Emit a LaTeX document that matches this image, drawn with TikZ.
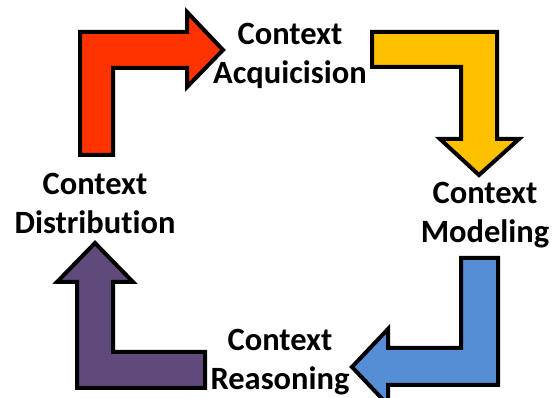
\documentclass[tikz,border=0pt]{standalone}
\usepackage{fontspec}
\setmainfont{Carlito}[RawFeature=-liga]
\usepackage{tikz}
\usepackage{xcolor}
\usetikzlibrary{
    calc,
    positioning
}

\definecolor{acqred}{HTML}{FF3300}
\definecolor{modyellow}{HTML}{FFC000}
\definecolor{reablue}{HTML}{558ED5}
\definecolor{dispurple}{HTML}{604A7B}

\begin{document}
\begin{tikzpicture}[x=1pt, y=-1pt,
                    bentarrow/.style={draw=black, line width=4pt, line join=miter},
                    phase/.style={align=center, font=\fontsize{32.5}{39}\selectfont\bfseries, inner sep=0pt}]
                        \useasboundingbox (0, 0) rectangle (555, 398);
                        \clip (0, 0) rectangle (555, 398);
                        % arrows
                        \draw[bentarrow, fill=acqred] (80, 155) -- (80, 32) -- (187, 32) -- (187, 12) -- (223, 50) -- (187, 87) -- (187, 68) -- (113, 68) -- (113, 155) -- cycle;
                        \draw[bentarrow, fill=modyellow] (372, 32) -- (497, 32) -- (497, 139) -- (519, 139) -- (479, 175) -- (440, 139) -- (461, 139) -- (461, 67) -- (372, 67) -- cycle;
                        \draw[bentarrow, fill=reablue] (498, 258) -- (498, 385) -- (388, 385) -- (388, 405) -- (352, 367) -- (388, 329) -- (388, 348) -- (461, 348) -- (461, 258) -- cycle;
                        \draw[bentarrow, fill=dispurple] (95, 243) -- (133, 282) -- (113, 282) -- (113, 352) -- (205, 352) -- (205, 388) -- (77, 388) -- (77, 282) -- (57, 282) -- cycle;
                        % labels
                        \node[phase] (acq) at (290, 56) {Context\\Acquicision};
                        \node[phase] (mod) at (485, 215) {Context\\Modeling};
                        \node[phase] (rea) at (280, 362) {Context\\Reasoning};
                        \node[phase] (dis) at (95, 203) {Context\\Distribution};
                    \end{tikzpicture}
\end{document}
